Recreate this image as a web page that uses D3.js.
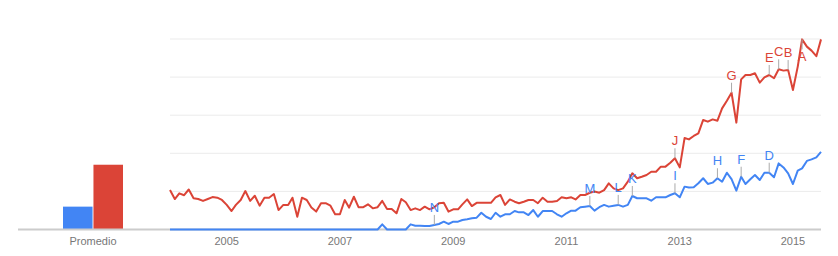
<!DOCTYPE html>
<html>
<head>
<meta charset="utf-8">
<script src="https://cdn.jsdelivr.net/npm/d3@7"></script>
<style>
body { margin: 0; background: #fff; }
text { font-family: "Liberation Sans", Arial, sans-serif; }
</style>
</head>
<body>
<svg id="chart"></svg>
<script>
const width = 838;
const height = 256;

// series
const seriesNames = ["termino1", "termino2"];
const seriesColors = ["#4285f4", "#db4437"];
const averages = [12, 34];
const avgLabel = "Promedio";

// monthly values, Jan 2004 .. Jul 2015
const blueValues = [
    0, 0, 0, 0, 0, 0, 0, 0, 0, 0,
    0, 0, 0, 0, 0, 0, 0, 0, 0, 0,
    0, 0, 0, 0, 0, 0, 0, 0, 0, 0,
    0, 0, 0, 0, 0, 0, 0, 0, 0, 0,
    0, 0, 0, 0, 0, 2.7, 0, 0, 0, 0,
    0, 2.7, 2, 2, 1.8, 1.8, 2.4, 2.9, 4.1, 2.9,
    4.1, 4.1, 5, 5.4, 5.9, 6.2, 8.8, 6.7, 5.5, 8.8,
    6.7, 8, 8, 9.7, 9, 9, 7.6, 10.2, 6.7, 9.7,
    9.7, 9.7, 8, 6.7, 8.5, 9.9, 9.9, 11.7, 12, 12.3,
    9.9, 11.7, 12.9, 12, 12.5, 12.9, 12, 12.9, 17.6, 16.4,
    16.4, 16.4, 15.1, 16.9, 16.9, 16.9, 18.1, 19, 16.9, 22.5,
    22, 22.2, 24.3, 26.9, 23.9, 24.6, 26.9, 25.1, 29.8, 26.4,
    20.4, 27.7, 23.9, 26.4, 28.6, 26, 29.8, 29.8, 27.4, 34.7,
    32.6, 29.5, 23.9, 30.9, 32.1, 36, 36.8, 37.9, 40.8
];
const redValues = [
    20.7, 16, 19, 18, 21, 16.4, 16, 15, 16, 17,
    16.7, 15.5, 12.9, 9.7, 12.9, 15.5, 20.2, 15, 17.7, 12.5,
    16.7, 16.7, 18.6, 10.2, 12.9, 12.9, 16.7, 6.7, 16.7, 15.5,
    11.5, 9.4, 13.8, 13.8, 12.5, 8, 8, 15.5, 11.5, 17.2,
    11.7, 11.7, 13.2, 11.1, 11.7, 15, 10.8, 10.8, 8.5, 16,
    14.3, 10.2, 11.1, 10.2, 12, 10.6, 11.7, 13.8, 14, 9.4,
    10.6, 10.6, 13.2, 15.8, 12.3, 14, 14, 14, 14, 16.9,
    18.1, 12.9, 15.8, 14.6, 13.8, 14.6, 15.5, 15.5, 13.8, 16.7,
    14.6, 14.6, 15, 16.9, 16.4, 16.9, 15.8, 18.1, 18.1, 19.3,
    19.9, 19.3, 20.7, 24.2, 21.6, 20.7, 21.6, 25.1, 29.5, 26.9,
    27.7, 28.6, 30.3, 30.3, 33, 33, 35, 37.4, 32.6, 48,
    47.3, 49.1, 50.5, 57.5, 56.6, 57.8, 57.1, 63.6, 67.6, 71.8,
    56.1, 78.8, 81.1, 81.1, 82, 77.1, 79.9, 81.1, 79.4, 84.1,
    83.4, 83.7, 73.2, 85.5, 99.8, 96, 93.9, 91, 99.8
];

const yearTicks = [2005, 2007, 2009, 2011, 2013, 2015];
const gridValues = [20, 40, 60, 80, 100];

// news markers
const blueMarkers = [
    {letter: "N", date: "2008-09"},
    {letter: "M", date: "2011-06"},
    {letter: "L", date: "2011-12"},
    {letter: "K", date: "2012-03"},
    {letter: "I", date: "2012-12"},
    {letter: "H", date: "2013-09"},
    {letter: "F", date: "2014-02"},
    {letter: "D", date: "2014-08"}
];
const redMarkers = [
    {letter: "J", date: "2012-12"},
    {letter: "G", date: "2013-12"},
    {letter: "E", date: "2014-08"},
    {letter: "C", date: "2014-10"},
    {letter: "B", date: "2014-12"},
    {letter: "A", date: "2015-03"}
];

const months = d3.timeMonth.range(new Date(2004, 0, 1), new Date(2015, 7, 1));
const parseMonth = d3.timeParse("%Y-%m");

let svg = d3.select("#chart").attr("width", width).attr("height", height);

const x = d3.scaleTime()
    .domain([months[0], months[months.length - 1]])
    .range([170, 821]);
const y = d3.scaleLinear()
    .domain([0, 100])
    .range([229.5, 39]);

// grid lines
svg.selectAll("line.grid")
    .data(gridValues)
    .enter()
    .append("line")
    .attr("class", "grid")
    .attr("x1", 170)
    .attr("x2", 821)
    .attr("y1", d => y(d))
    .attr("y2", d => y(d))
    .attr("stroke", "#ebebeb")
    .attr("stroke-width", 1);

// average bars
const xCat = d3.scaleBand().domain([avgLabel]).range([63, 123]);
const xSer = d3.scaleBand().domain(seriesNames).range([0, xCat.bandwidth()]).paddingInner(0.03);

svg.selectAll("rect.avg")
    .data(averages)
    .enter()
    .append("rect")
    .attr("class", "avg")
    .attr("x", (d, i) => xCat(avgLabel) + xSer(seriesNames[i]))
    .attr("width", xSer.bandwidth())
    .attr("y", d => y(d))
    .attr("height", d => y(0) - y(d))
    .attr("fill", (d, i) => seriesColors[i]);

// baseline
svg.append("line")
    .attr("x1", 18)
    .attr("x2", 821)
    .attr("y1", y(0))
    .attr("y2", y(0))
    .attr("stroke", "#cccccc")
    .attr("stroke-width", 2);

svg.append("text")
    .attr("x", xCat(avgLabel) + xCat.bandwidth() / 2)
    .attr("y", 245)
    .attr("text-anchor", "middle")
    .attr("font-size", "11px")
    .attr("fill", "#777")
    .text(avgLabel);

svg.selectAll("text.year")
    .data(yearTicks)
    .enter()
    .append("text")
    .attr("class", "year")
    .attr("x", d => x(new Date(d, 0, 1)))
    .attr("y", 245)
    .attr("text-anchor", "middle")
    .attr("font-size", "11px")
    .attr("fill", "#777")
    .text(d => d);

// lines
const line = d3.line()
    .x((d, i) => x(months[i]))
    .y(d => y(d));

[blueValues, redValues].forEach((vals, s) => {
    svg.append("path")
        .datum(vals)
        .attr("d", line)
        .attr("fill", "none")
        .attr("stroke", seriesColors[s])
        .attr("stroke-width", 2)
        .attr("stroke-linejoin", "round");
});

// markers
function drawMarkers(markers, vals, color) {
    markers.forEach(m => {
        const date = parseMonth(m.date);
        const idx = months.findIndex(d => +d === +date);
        const px = x(date);
        const py = y(vals[idx]);
        const below = vals[idx] > 95; // no room above the top line
        svg.append("line")
            .attr("x1", px)
            .attr("x2", px)
            .attr("y1", py)
            .attr("y2", below ? py + 10 : py - 10)
            .attr("stroke", "#aaa")
            .attr("stroke-width", 1);
        svg.append("text")
            .attr("x", px)
            .attr("y", below ? py + 22 : py - 13)
            .attr("text-anchor", "middle")
            .attr("font-size", "13px")
            .attr("fill", color)
            .text(m.letter);
    });
}

drawMarkers(blueMarkers, blueValues, seriesColors[0]);
drawMarkers(redMarkers, redValues, seriesColors[1]);
</script>
</body>
</html>
